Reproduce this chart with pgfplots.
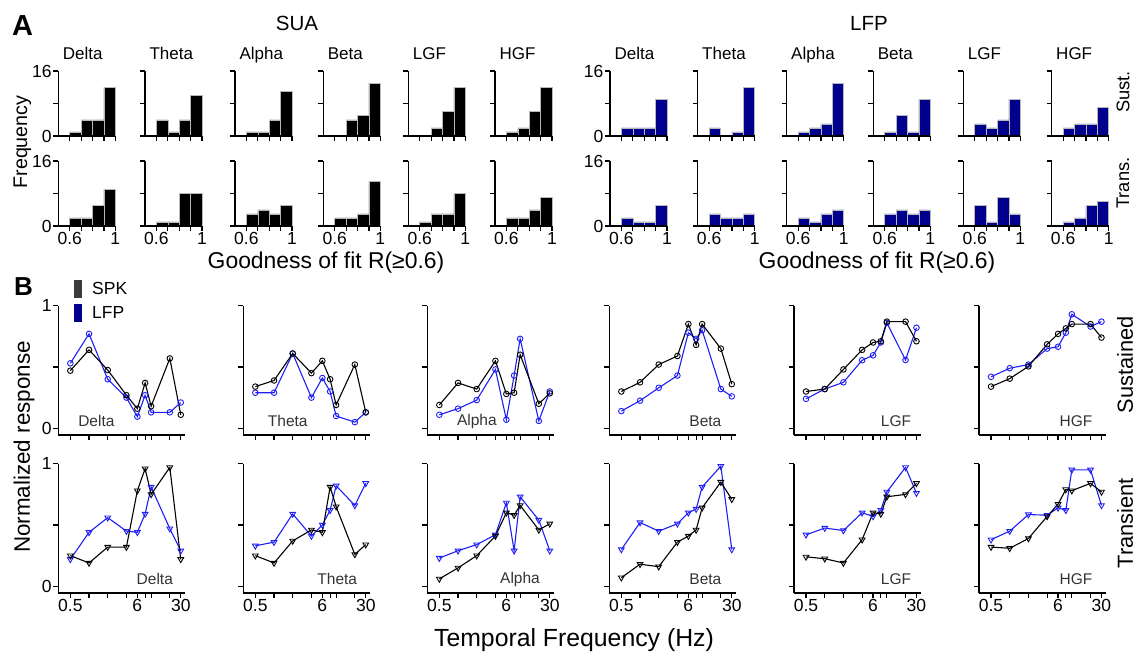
\documentclass[border=0pt]{standalone}
\usepackage{pgfplots}
\pgfplotsset{compat=1.18}
\usepackage{fontspec}
\setmainfont{Liberation Sans}
\definecolor{lfpbar}{RGB}{0,0,140}
\definecolor{lfpline}{RGB}{30,30,245}
\definecolor{spkleg}{RGB}{60,60,60}
\newcommand{\fs}[1]{\fontsize{#1}{#1}\selectfont}

\pgfplotsset{
  panel/.style={scale only axis, axis lines=left,
    axis line style={-, line width=1.3pt},
    tick align=outside, major tick length=5pt,
    tick style={black, line width=1.2pt},
    tick label style={font=\fs{17.5}, inner sep=1.5pt},
    clip=false, xticklabels={}, yticklabels={}},
  hist/.style={panel, axis on top, width=57pt, height=65pt,
    xmin=0.5, xmax=1, ymin=0, ymax=16,
    xtick={0.6,0.7,0.8,0.9,1}, ytick={0,8,16},
    every axis title/.style={at={(0,1)}, anchor=base west,
      xshift=1pt, yshift=12pt, font=\fs{17}}},
  lineax/.style={panel, width=127pt, height=129.3pt,
    xmin=0.32, xmax=35.5, ymin=-0.055, ymax=1,
    xtick={0.5,1,2,4,6,8,10,20,30}, ytick={0,0.5,1}},
  spk/.style={black, line width=1.1pt, mark=o, mark size=2.8pt,
    mark options={line width=0.9pt}},
  lfp/.style={lfpline, line width=1.1pt, mark=o, mark size=2.8pt,
    mark options={line width=0.9pt}},
  spkt/.style={black, line width=1.1pt, mark=triangle, mark size=3.3pt,
    mark options={rotate=180, line width=0.9pt}},
  lfpt/.style={lfpline, line width=1.1pt, mark=triangle, mark size=3.3pt,
    mark options={rotate=180, line width=0.9pt}},
}

% x, y of lower left (px), options, colour, data
\newcommand{\hist}[5]{%
  \begin{axis}[hist, at={(#1pt,-#2pt)}, #3]
    \addplot[ybar interval, fill=#4, draw=white!72!black, line width=0.5pt]
      coordinates {#5};
  \end{axis}}
\newcommand{\lax}[4]{%
  \begin{axis}[xmode=log, lineax, at={(#1pt,-#2pt)}, #3]
    #4
  \end{axis}}
\newcommand{\inlab}[3]{\node[font=\fs{15.5}, text=black!80, anchor=#1]
  at (rel axis cs:#2) {#3};}

\begin{document}
\begin{tikzpicture}
\path[use as bounding box] (0pt,0pt) rectangle (1138pt,-657pt);

% ---------- A: SUA ----------
\hist{58.3}{136}{title=Delta, yticklabels={0,,16}}{black}{(0.6,1)(0.7,4)(0.8,4)(0.9,12)(1,12)}
\hist{145}{136}{title=Theta}{black}{(0.6,4)(0.7,1)(0.8,4)(0.9,10)(1,10)}
\hist{235}{136}{title=Alpha}{black}{(0.6,1)(0.7,1)(0.8,4)(0.9,11)(1,11)}
\hist{323.3}{136}{title=Beta}{black}{(0.6,0)(0.7,4)(0.8,5)(0.9,13)(1,13)}
\hist{408.3}{136}{title=LGF}{black}{(0.6,0)(0.7,2)(0.8,6)(0.9,12)(1,12)}
\hist{495}{136}{title=HGF}{black}{(0.6,1)(0.7,2)(0.8,6)(0.9,12)(1,12)}

\hist{58.3}{226}{yticklabels={0,,16}, xticklabels={0.6,,,,1}}{black}{(0.6,2)(0.7,2)(0.8,5)(0.9,9)(1,9)}
\hist{145}{226}{xticklabels={0.6,,,,1}}{black}{(0.6,1)(0.7,1)(0.8,8)(0.9,8)(1,8)}
\hist{235}{226}{xticklabels={0.6,,,,1}}{black}{(0.6,3)(0.7,4)(0.8,3)(0.9,5)(1,5)}
\hist{323.3}{226}{xticklabels={0.6,,,,1}}{black}{(0.6,2)(0.7,2)(0.8,3)(0.9,11)(1,11)}
\hist{408.3}{226}{xticklabels={0.6,,,,1}}{black}{(0.6,1)(0.7,3)(0.8,3)(0.9,8)(1,8)}
\hist{495}{226}{xticklabels={0.6,,,,1}}{black}{(0.6,2)(0.7,2)(0.8,4)(0.9,7)(1,7)}

% ---------- A: LFP ----------
\hist{610}{136}{title=Delta, yticklabels={0,,16}}{lfpbar}{(0.6,2)(0.7,2)(0.8,2)(0.9,9)(1,9)}
\hist{697.7}{136}{title=Theta}{lfpbar}{(0.6,2)(0.7,0)(0.8,1)(0.9,12)(1,12)}
\hist{786.7}{136}{title=Alpha}{lfpbar}{(0.6,1)(0.7,2)(0.8,3)(0.9,13)(1,13)}
\hist{873.3}{136}{title=Beta}{lfpbar}{(0.6,1)(0.7,5)(0.8,1)(0.9,9)(1,9)}
\hist{963.3}{136}{title=LGF}{lfpbar}{(0.6,3)(0.7,2)(0.8,4)(0.9,9)(1,9)}
\hist{1051.7}{136}{title=HGF}{lfpbar}{(0.6,2)(0.7,3)(0.8,3)(0.9,7)(1,7)}

\hist{610}{226}{yticklabels={0,,16}, xticklabels={0.6,,,,1}}{lfpbar}{(0.6,2)(0.7,1)(0.8,1)(0.9,5)(1,5)}
\hist{697.7}{226}{xticklabels={0.6,,,,1}}{lfpbar}{(0.6,3)(0.7,2)(0.8,2)(0.9,3)(1,3)}
\hist{786.7}{226}{xticklabels={0.6,,,,1}}{lfpbar}{(0.6,2)(0.7,1)(0.8,3)(0.9,4)(1,4)}
\hist{873.3}{226}{xticklabels={0.6,,,,1}}{lfpbar}{(0.6,3)(0.7,4)(0.8,3)(0.9,4)(1,4)}
\hist{963.3}{226}{xticklabels={0.6,,,,1}}{lfpbar}{(0.6,5)(0.7,1)(0.8,7)(0.9,3)(1,3)}
\hist{1051.7}{226}{xticklabels={0.6,,,,1}}{lfpbar}{(0.6,1)(0.7,2)(0.8,5)(0.9,6)(1,6)}

% ---------- B: sustained ----------
\lax{58.3}{435}{yticklabels={0,,1},
  legend style={at={(0.124,1.222)}, anchor=north west, draw=none, fill=none,
    inner sep=0pt, font=\fs{17.5}, row sep=0pt}, legend cell align=left}{
  \addlegendimage{legend image code/.code={\fill[spkleg, draw=none] (0pt,-9pt) rectangle (8pt,9pt);
    \path[draw=none, fill=none] (0pt,-12pt) rectangle (16pt,12pt);}}
  \addlegendentry{SPK}
  \addlegendimage{legend image code/.code={\fill[lfpbar, draw=none] (0pt,-9pt) rectangle (8pt,9pt);
    \path[draw=none, fill=none] (0pt,-12pt) rectangle (16pt,12pt);}}
  \addlegendentry{LFP}
  \addplot[lfp] coordinates {(0.5,0.53)(1,0.77)(2,0.40)(4,0.25)(6,0.095)(8,0.27)(10,0.13)(20,0.13)(30,0.21)};
  \addplot[spk] coordinates {(0.5,0.47)(1,0.64)(2,0.475)(4,0.27)(6,0.16)(8,0.37)(10,0.18)(20,0.57)(30,0.11)};
  \inlab{center}{0.30,0.108}{Delta}}
\lax{243.3}{435}{}{
  \addplot[lfp] coordinates {(0.5,0.29)(1,0.29)(2,0.61)(4,0.25)(6,0.41)(8,0.30)(10,0.10)(20,0.05)(30,0.13)};
  \addplot[spk] coordinates {(0.5,0.34)(1,0.39)(2,0.61)(4,0.45)(6,0.55)(8,0.40)(10,0.19)(20,0.52)(30,0.13)};
  \inlab{center}{0.35,0.108}{Theta}}
\lax{427.3}{435}{}{
  \addplot[lfp] coordinates {(0.5,0.11)(1,0.16)(2,0.23)(4,0.48)(6,0.07)(8,0.43)(10,0.73)(20,0.06)(30,0.30)};
  \addplot[spk] coordinates {(0.5,0.19)(1,0.37)(2,0.32)(4,0.55)(6,0.28)(8,0.29)(10,0.60)(20,0.20)(30,0.285)};
  \inlab{center}{0.39,0.108}{Alpha}}
\lax{609.3}{435}{}{
  \addplot[lfp] coordinates {(0.5,0.14)(1,0.225)(2,0.33)(4,0.43)(6,0.78)(8,0.73)(10,0.80)(20,0.32)(30,0.26)};
  \addplot[spk] coordinates {(0.5,0.30)(1,0.375)(2,0.52)(4,0.59)(6,0.85)(8,0.68)(10,0.85)(20,0.65)(30,0.36)};
  \inlab{east}{0.91,0.108}{Beta}}
\lax{794}{435}{}{
  \addplot[lfp] coordinates {(0.5,0.24)(1,0.32)(2,0.375)(4,0.555)(6,0.595)(8,0.70)(10,0.86)(20,0.557)(30,0.82)};
  \addplot[spk] coordinates {(0.5,0.30)(1,0.32)(2,0.48)(4,0.64)(6,0.70)(8,0.71)(10,0.87)(20,0.87)(30,0.71)};
  \inlab{east}{0.95,0.108}{LGF}}
\lax{979}{435}{}{
  \addplot[lfp] coordinates {(0.5,0.42)(1,0.49)(2,0.52)(4,0.65)(6,0.665)(8,0.78)(10,0.93)(20,0.83)(30,0.87)};
  \addplot[spk] coordinates {(0.5,0.34)(1,0.405)(2,0.505)(4,0.685)(6,0.77)(8,0.815)(10,0.85)(20,0.85)(30,0.74)};
  \inlab{east}{0.92,0.108}{HGF}}

% ---------- B: transient ----------
\lax{58.3}{593}{yticklabels={0,,1}, xticklabels={0.5,,,,6,,,,30}}{
  \addplot[lfpt] coordinates {(0.5,0.22)(1,0.44)(2,0.56)(4,0.45)(6,0.44)(8,0.59)(10,0.81)(20,0.47)(30,0.29)};
  \addplot[spkt] coordinates {(0.5,0.25)(1,0.19)(2,0.32)(4,0.32)(6,0.78)(8,0.96)(10,0.75)(20,0.97)(30,0.22)};
  \inlab{center}{0.76,0.108}{Delta}}
\lax{243.3}{593}{xticklabels={0.5,,,,6,,,,30}}{
  \addplot[lfpt] coordinates {(0.5,0.33)(1,0.36)(2,0.59)(4,0.41)(6,0.50)(8,0.62)(10,0.82)(20,0.66)(30,0.84)};
  \addplot[spkt] coordinates {(0.5,0.25)(1,0.19)(2,0.37)(4,0.46)(6,0.44)(8,0.81)(10,0.65)(20,0.26)(30,0.34)};
  \inlab{center}{0.74,0.108}{Theta}}
\lax{427.3}{593}{xticklabels={0.5,,,,6,,,,30}}{
  \addplot[lfpt] coordinates {(0.5,0.23)(1,0.29)(2,0.34)(4,0.42)(6,0.68)(8,0.29)(10,0.73)(20,0.54)(30,0.29)};
  \addplot[spkt] coordinates {(0.5,0.06)(1,0.15)(2,0.25)(4,0.41)(6,0.60)(8,0.58)(10,0.66)(20,0.46)(30,0.51)};
  \inlab{center}{0.73,0.108}{Alpha}}
\lax{609.3}{593}{xticklabels={0.5,,,,6,,,,30}}{
  \addplot[lfpt] coordinates {(0.5,0.30)(1,0.52)(2,0.45)(4,0.51)(6,0.60)(8,0.63)(10,0.81)(20,0.98)(30,0.30)};
  \addplot[spkt] coordinates {(0.5,0.07)(1,0.18)(2,0.16)(4,0.36)(6,0.41)(8,0.46)(10,0.64)(20,0.85)(30,0.71)};
  \inlab{east}{0.91,0.108}{Beta}}
\lax{794}{593}{xticklabels={0.5,,,,6,,,,30}}{
  \addplot[lfpt] coordinates {(0.5,0.42)(1,0.475)(2,0.455)(4,0.60)(6,0.57)(8,0.62)(10,0.77)(20,0.97)(30,0.76)};
  \addplot[spkt] coordinates {(0.5,0.24)(1,0.225)(2,0.19)(4,0.38)(6,0.60)(8,0.59)(10,0.73)(20,0.75)(30,0.84)};
  \inlab{east}{0.95,0.108}{LGF}}
\lax{979}{593}{xticklabels={0.5,,,,6,,,,30}}{
  \addplot[lfpt] coordinates {(0.5,0.38)(1,0.45)(2,0.585)(4,0.58)(6,0.64)(8,0.62)(10,0.95)(20,0.95)(30,0.66)};
  \addplot[spkt] coordinates {(0.5,0.32)(1,0.31)(2,0.39)(4,0.57)(6,0.67)(8,0.79)(10,0.78)(20,0.84)(30,0.77)};
  \inlab{east}{0.92,0.108}{HGF}}

% ---------- labels ----------
\node[font=\fs{29}\bfseries, anchor=base west, inner sep=0pt] at (12pt,-35pt) {A};
\node[font=\fs{26}\bfseries, anchor=base west, inner sep=0pt] at (14pt,-295pt) {B};
\node[font=\fs{20.5}, anchor=base, inner sep=0pt] at (297pt,-30pt) {SUA};
\node[font=\fs{20.5}, anchor=base, inner sep=0pt] at (869pt,-30pt) {LFP};
\node[font=\fs{19.7}, rotate=90, inner sep=0pt] at (22.5pt,-142pt) {Frequency};
\node[font=\fs{18.3}, rotate=90, inner sep=0pt] at (1123pt,-92pt) {Sust.};
\node[font=\fs{18.3}, rotate=90, inner sep=0pt] at (1123pt,-183pt) {Trans.};
\node[font=\fs{22.9}, anchor=base, inner sep=0pt] at (326pt,-268pt) {Goodness of fit R(≥0.6)};
\node[font=\fs{22.9}, anchor=base, inner sep=0pt] at (877pt,-268pt) {Goodness of fit R(≥0.6)};
\node[font=\fs{22.4}, rotate=90, inner sep=0pt] at (24pt,-447pt) {Normalized response};
\node[font=\fs{24.8}, anchor=base, inner sep=0pt] at (574pt,-646pt) {Temporal Frequency (Hz)};
\node[font=\fs{21.8}, rotate=90, inner sep=0pt] at (1125pt,-365pt) {Sustained};
\node[font=\fs{21.8}, rotate=90, inner sep=0pt] at (1125pt,-523pt) {Transient};
\end{tikzpicture}
\end{document}
